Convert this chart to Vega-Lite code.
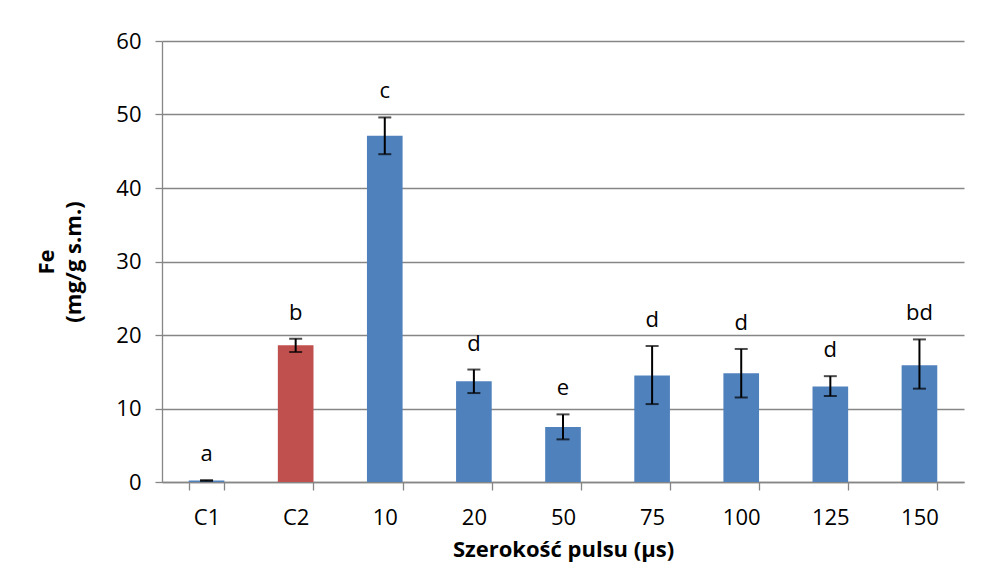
{
  "$schema": "https://vega.github.io/schema/vega-lite/v6.json",
  "width": 802,
  "height": 441,
  "autosize": {"type": "none"},
  "padding": {"left": 162, "top": 41, "right": 28, "bottom": 94},
  "background": "white",
  "config": {
    "font": "Open Sans",
    "view": {"stroke": null},
    "axis": {
      "labelFont": "Open Sans",
      "titleFont": "Open Sans",
      "labelColor": "#000000",
      "titleColor": "#000000",
      "domainColor": "#868686",
      "tickColor": "#868686",
      "gridColor": "#868686",
      "domainWidth": 1.3,
      "tickWidth": 1.3,
      "gridWidth": 1.3
    }
  },
  "data": {
    "values": [
      {"grupa": "C1", "fe": 0.2, "lo": 0.15, "hi": 0.25, "litera": "a", "typ": "kontrola"},
      {"grupa": "C2", "fe": 18.6, "lo": 17.7, "hi": 19.5, "litera": "b", "typ": "kontrola C2"},
      {"grupa": "10", "fe": 47.1, "lo": 44.6, "hi": 49.6, "litera": "c", "typ": "kontrola"},
      {"grupa": "20", "fe": 13.7, "lo": 12.1, "hi": 15.3, "litera": "d", "typ": "kontrola"},
      {"grupa": "50", "fe": 7.5, "lo": 5.8, "hi": 9.2, "litera": "e", "typ": "kontrola"},
      {"grupa": "75", "fe": 14.5, "lo": 10.6, "hi": 18.5, "litera": "d", "typ": "kontrola"},
      {"grupa": "100", "fe": 14.8, "lo": 11.5, "hi": 18.1, "litera": "d", "typ": "kontrola"},
      {"grupa": "125", "fe": 13.0, "lo": 11.7, "hi": 14.4, "litera": "d", "typ": "kontrola"},
      {"grupa": "150", "fe": 15.9, "lo": 12.7, "hi": 19.4, "litera": "bd", "typ": "kontrola"}
    ]
  },
  "encoding": {
    "x": {
      "field": "grupa",
      "type": "nominal",
      "sort": null,
      "scale": {"paddingInner": 0.6, "paddingOuter": 0.3},
      "axis": {
        "title": "Szerokość pulsu (µs)",
        "titleFontSize": 22,
        "titleFontWeight": "bold",
        "titlePadding": 11,
        "labelAngle": 0,
        "labelFontSize": 22,
        "labelPadding": 17,
        "tickBand": "extent",
        "tickSize": 8
      }
    }
  },
  "layer": [
    {
      "mark": {"type": "bar"},
      "encoding": {
        "y": {
          "field": "fe",
          "type": "quantitative",
          "scale": {"domain": [0, 60]},
          "axis": {
            "values": [0, 10, 20, 30, 40, 50, 60],
            "title": ["Fe", "(mg/g s.m.)"],
            "titleFontSize": 22,
            "titleFontWeight": "bold",
            "titlePadding": 30,
            "titleLineHeight": 27,
            "labelFontSize": 22,
            "labelPadding": 14,
            "tickSize": 7
          }
        },
        "color": {
          "field": "typ",
          "type": "nominal",
          "scale": {"domain": ["kontrola", "kontrola C2"], "range": ["#4F81BD", "#C0504D"]},
          "legend": null
        }
      }
    },
    {
      "mark": {"type": "rule", "color": "#000000", "strokeWidth": 2},
      "encoding": {
        "y": {"field": "lo", "type": "quantitative"},
        "y2": {"field": "hi"}
      }
    },
    {
      "mark": {"type": "tick", "color": "#000000", "thickness": 2, "size": 13, "orient": "horizontal"},
      "encoding": {"y": {"field": "lo", "type": "quantitative"}}
    },
    {
      "mark": {"type": "tick", "color": "#000000", "thickness": 2, "size": 13, "orient": "horizontal"},
      "encoding": {"y": {"field": "hi", "type": "quantitative"}}
    },
    {
      "mark": {"type": "text", "fontSize": 22, "baseline": "alphabetic", "dy": -19, "color": "#000000"},
      "encoding": {
        "y": {"field": "hi", "type": "quantitative"},
        "text": {"field": "litera"}
      }
    }
  ]
}
